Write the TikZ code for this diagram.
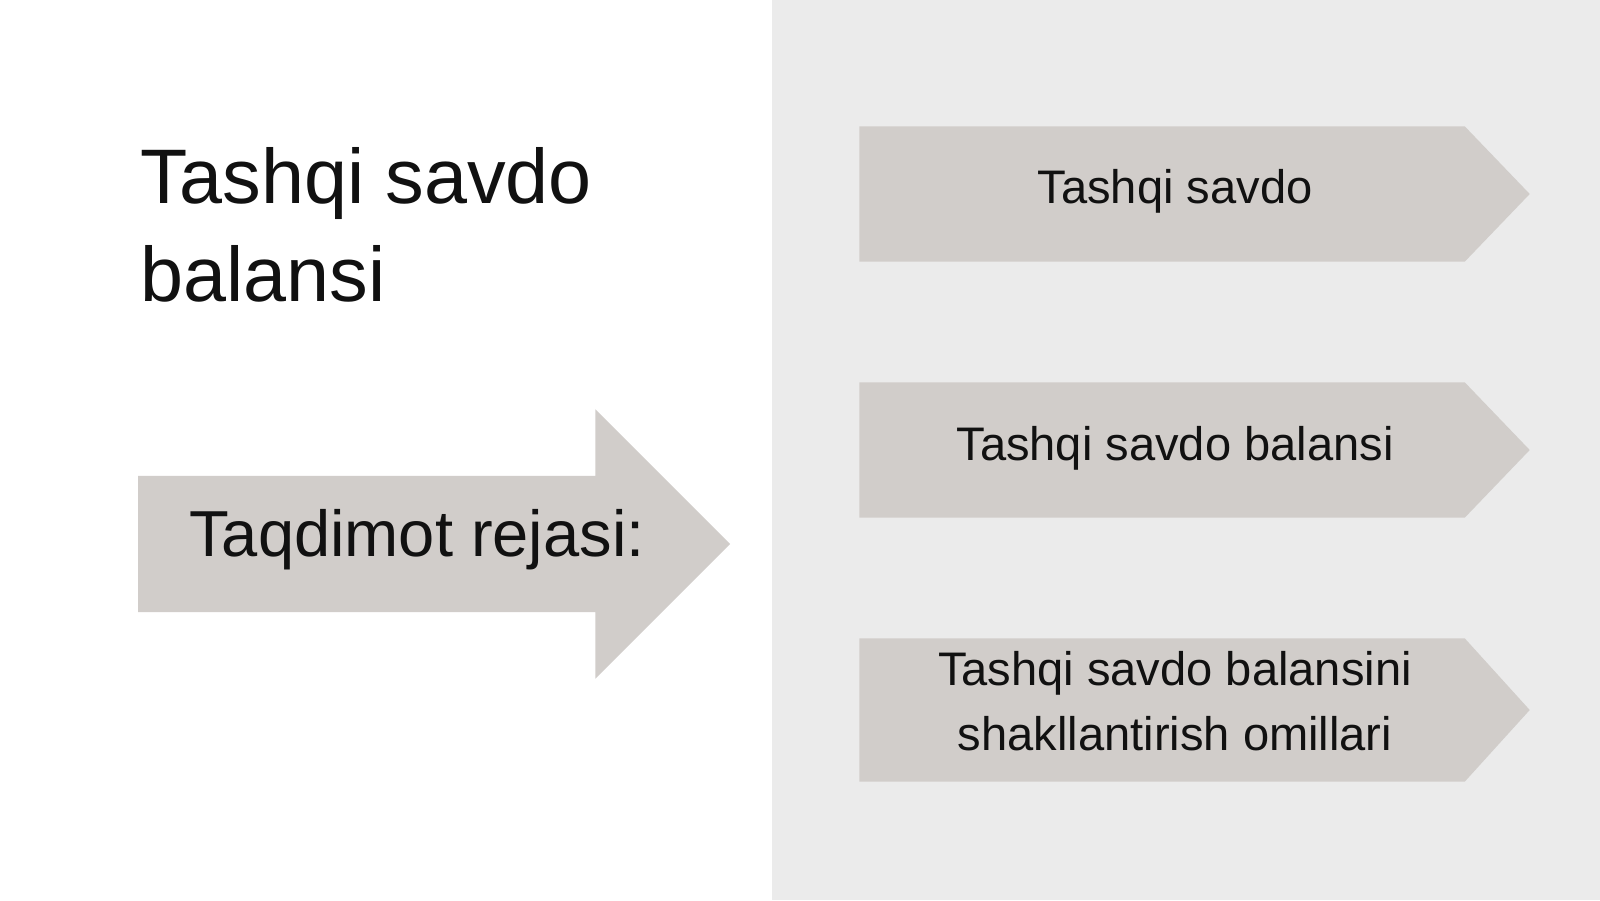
\documentclass[tikz,border=0pt]{standalone}
\usepackage{fontspec}
\setmainfont{Liberation Sans}
\usepackage{xcolor}
\usetikzlibrary{shapes.arrows, positioning, calc, backgrounds}
\definecolor{panelgray}{RGB}{235,235,235}
\definecolor{boxgray}{RGB}{209,205,202}
\definecolor{inkblack}{RGB}{17,17,17}

\begin{document}
\begin{tikzpicture}[text=inkblack,
    chev/.style={rectangle, minimum width=6.04cm, minimum height=1.34cm, inner sep=0pt, text height=0.36cm, text depth=0.16cm, align=center, font=\fontsize{13.4}{18.3}\selectfont},
    bigarrow/.style={single arrow, fill=boxgray, minimum height=5.92cm, single arrow head extend=0.665cm, single arrow tip angle=90, inner xsep=0pt, inner ysep=0.345cm, text height=0.45cm, text depth=0.21cm, font=\fontsize{18.5}{22}\selectfont}]
    
    \useasboundingbox (0,0) rectangle (16,9);
    
    % Title
    \node[anchor=north west, inner sep=0pt, align=left, font=\fontsize{22}{27.9}\selectfont] (title) at (1.40,7.53) {Tashqi savdo\\balansi};
    
    % Plan arrow
    \node[bigarrow] (plan) at (4.00,3.56) {\hspace*{0.34cm}Taqdimot rejasi:};
    
    % Plan items
    \node[chev] (item1) at (11.75,7.06) {Tashqi savdo};
    \node[chev] (item2) at (11.75,4.50) {Tashqi savdo balansi};
    \node[chev, minimum height=1.42cm, text height=0.96cm] (item3) at (11.75,1.90) {Tashqi savdo balansini\\shakllantirish omillari};
    
    % Background and item shapes
    \begin{scope}[on background layer]
        \fill[white] (0,0) rectangle (16,9);
        \fill[panelgray] (7.72,0) rectangle (16,9);
        \fill[boxgray] ($(item1.north west)+(-0.13,0)$) -- ($(item1.north east)+(-0.13,0)$) -- ($(item1.east)+(0.52,0)$) -- ($(item1.south east)+(-0.13,0)$) -- ($(item1.south west)+(-0.13,0)$) -- cycle;
        \fill[boxgray] ($(item2.north west)+(-0.13,0)$) -- ($(item2.north east)+(-0.13,0)$) -- ($(item2.east)+(0.52,0)$) -- ($(item2.south east)+(-0.13,0)$) -- ($(item2.south west)+(-0.13,0)$) -- cycle;
        \fill[boxgray] ($(item3.north west)+(-0.13,0)$) -- ($(item3.north east)+(-0.13,0)$) -- ($(item3.east)+(0.52,0)$) -- ($(item3.south east)+(-0.13,0)$) -- ($(item3.south west)+(-0.13,0)$) -- cycle;
    \end{scope}
\end{tikzpicture}
\end{document}
